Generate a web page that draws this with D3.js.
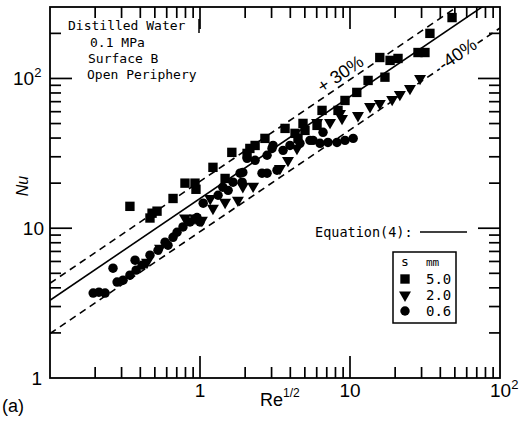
<!DOCTYPE html>
<html>
<head>
<meta charset="utf-8">
<script src="https://cdn.jsdelivr.net/npm/d3@7"></script>
<style>
  body { margin: 0; background: #fff; }
  svg { display: block; }
</style>
</head>
<body>
<div class="chart"></div>
<script>
// Data: [Re^1/2, Nu] for each gap size s
const gap50 = [
    [0.341, 14.0], [0.479, 12.6], [0.517, 13.0], [0.464, 11.7], [0.661, 15.8],
    [0.794, 20.0], [0.926, 20.0], [0.940, 18.2], [1.22, 25.5], [1.47, 21.5],
    [1.63, 32.1], [2.06, 31.6], [2.15, 34.1], [2.33, 35.7], [2.71, 39.8],
    [3.69, 46.4], [4.30, 43.0], [4.50, 39.8], [5.01, 45.0], [6.03, 48.6],
    [4.86, 50.1], [6.51, 61.2], [8.32, 61.2], [9.26, 71.3], [11.1, 80.7],
    [13.2, 97], [17.1, 102], [15.8, 138], [18.5, 132], [20.9, 136],
    [28.4, 149], [31.6, 149], [34.1, 200], [47.9, 255]
];
const gap20 = [
    [0.443, 5.93], [0.541, 7.36], [0.794, 11.7], [0.926, 11.7], [1.03, 11.3],
    [1.22, 13.6], [1.17, 15.8], [1.47, 14.9], [1.79, 15.4], [2.26, 19.1],
    [1.93, 19.0], [3.41, 25.1], [3.86, 28.4], [4.43, 34.1], [6.03, 50.9],
    [7.36, 50.9], [8.85, 54.1], [8.58, 58.4], [11.3, 56.6], [13.6, 65.0],
    [15.8, 68.1], [19.1, 72.4], [21.5, 78.2], [25.1, 85.8], [29.3, 100]
];
const gap06 = [
    [0.194, 3.69], [0.212, 3.74], [0.233, 3.69], [0.263, 5.41], [0.280, 4.37],
    [0.307, 4.50], [0.341, 4.86], [0.369, 6.12], [0.375, 5.25], [0.411, 5.67],
    [0.464, 6.61], [0.525, 7.13], [0.585, 8.07], [0.612, 7.70], [0.661, 8.7],
    [0.703, 9.4], [0.770, 10.2], [0.858, 11.0], [0.955, 11.8], [1.0, 11.0],
    [1.05, 14.7], [1.32, 16.6], [1.42, 18.8], [1.54, 17.9], [1.66, 20.3],
    [1.85, 23.3], [1.91, 20.3], [1.93, 23.6], [2.06, 29.3], [2.33, 28.4],
    [2.59, 23.3], [2.80, 23.3], [2.80, 30.7], [3.02, 34.1], [3.26, 24.4],
    [3.07, 35.7], [3.58, 33.1], [3.98, 35.7], [4.64, 36.9], [5.41, 38.6],
    [5.67, 38.6], [6.31, 36.9], [6.61, 43.7], [7.13, 37.4], [8.19, 37.4],
    [9.26, 38.6], [10.5, 39.8]
];
const gapLabels = ['5.0', '2.0', '0.6'];

// Equation (4): Nu = C * (Re^1/2)^n, with the +30% / -40% band
const eqC = 15.8;
const eqN = 0.68;
const bandFactors = [1.3, 0.6];

const infoLines = ['Distilled Water', '0.1 MPa', 'Surface B', 'Open Periphery'];

const width = 530;
const height = 423;
const plot = {left: 50, right: 500, top: 7, bottom: 378};

const x = d3.scaleLog().domain([0.1, 100]).range([plot.left, plot.right]);
const y = d3.scaleLog().domain([1, 300]).range([plot.bottom, plot.top]);

const sans = "'Liberation Sans', Arial, sans-serif";
const mono = "'DejaVu Sans Mono', monospace";

const svg = d3.select('.chart')
    .append('svg')
    .attr('width', width)
    .attr('height', height);

svg.append('clipPath')
    .attr('id', 'plot-clip')
    .append('rect')
    .attr('x', plot.left)
    .attr('y', plot.top)
    .attr('width', plot.right - plot.left)
    .attr('height', plot.bottom - plot.top);

// Ticks on all four sides, pointing inwards
const isMajor = v => Math.abs(Math.log10(v) - Math.round(Math.log10(v))) < 1e-6;
const xTicks = x.ticks().filter(v => v > 0.1 && v < 100);
const yTicks = y.ticks().filter(v => v > 1 && v < 300);
const tickLen = v => isMajor(v) ? 22 : 11;

const ticks = svg.append('g')
    .attr('stroke', '#000')
    .attr('stroke-width', 1.7);

ticks.selectAll('line.xb')
    .data(xTicks)
    .join('line')
    .attr('x1', d => x(d)).attr('x2', d => x(d))
    .attr('y1', plot.bottom).attr('y2', d => plot.bottom - tickLen(d));

ticks.selectAll('line.xt')
    .data(xTicks)
    .join('line')
    .attr('x1', d => x(d)).attr('x2', d => x(d))
    .attr('y1', plot.top).attr('y2', d => plot.top + tickLen(d));

ticks.selectAll('line.yl')
    .data(yTicks)
    .join('line')
    .attr('y1', d => y(d)).attr('y2', d => y(d))
    .attr('x1', plot.left).attr('x2', d => plot.left + tickLen(d));

ticks.selectAll('line.yr')
    .data(yTicks)
    .join('line')
    .attr('y1', d => y(d)).attr('y2', d => y(d))
    .attr('x1', plot.right).attr('x2', d => plot.right - tickLen(d));

// Frame
svg.append('rect')
    .attr('x', plot.left)
    .attr('y', plot.top)
    .attr('width', plot.right - plot.left)
    .attr('height', plot.bottom - plot.top)
    .attr('fill', 'none')
    .attr('stroke', '#000')
    .attr('stroke-width', 1.8);

// Tick labels
const tickLabel = (px, py, anchor, base, sup) => {
    const t = svg.append('text')
        .attr('x', px)
        .attr('y', py)
        .attr('text-anchor', anchor)
        .attr('font-family', sans)
        .attr('font-size', 19)
        .text(base);
    if (sup) {
        t.append('tspan')
            .attr('dy', -8)
            .attr('font-size', 13)
            .text(sup);
    }
};
tickLabel(x(1), 397, 'middle', '1');
tickLabel(x(10), 397, 'middle', '10');
tickLabel(x(100) - 10, 397, 'start', '10', '2');
tickLabel(42, y(1) + 7, 'end', '1');
tickLabel(44, y(10) + 7, 'end', '10');
tickLabel(13, y(100) + 7, 'start', '10', '2');

// Axis titles
svg.append('text')
    .attr('transform', 'translate(28,186) rotate(-90)')
    .attr('text-anchor', 'middle')
    .attr('font-family', sans)
    .attr('font-style', 'italic')
    .attr('font-size', 16)
    .text('Nu');

const reLabel = svg.append('text')
    .attr('x', 260)
    .attr('y', 406)
    .attr('font-family', sans)
    .attr('font-size', 18)
    .text('Re');
reLabel.append('tspan')
    .attr('dy', -9)
    .attr('font-size', 12)
    .text('1/2');

svg.append('text')
    .attr('x', 2)
    .attr('y', 412)
    .attr('font-family', sans)
    .attr('font-size', 18)
    .text('(a)');

// Equation line and the band lines
const lines = svg.append('g').attr('clip-path', 'url(#plot-clip)');
const eqLine = f => d3.line()
    .x(d => x(d))
    .y(d => y(f * eqC * Math.pow(d, eqN)))(x.domain());

lines.append('path')
    .attr('d', eqLine(1))
    .attr('fill', 'none')
    .attr('stroke', '#000')
    .attr('stroke-width', 1.6);

lines.selectAll('path.band')
    .data(bandFactors)
    .join('path')
    .attr('class', 'band')
    .attr('d', d => eqLine(d))
    .attr('fill', 'none')
    .attr('stroke', '#000')
    .attr('stroke-width', 1.6)
    .attr('stroke-dasharray', '7,5');

const slopeAngle = -Math.atan(eqN * (y(1) - y(10)) / (x(10) - x(1))) * 180 / Math.PI;

const bandLabel = (xv, f, off, txt, halo) => {
    const px = x(xv);
    const py = y(f * eqC * Math.pow(xv, eqN));
    svg.append('text')
        .attr('transform', `translate(${px},${py}) rotate(${slopeAngle}) translate(0,${off})`)
        .attr('text-anchor', 'middle')
        .attr('font-family', sans)
        .attr('font-size', 18)
        .attr('fill', '#000')
        .attr('stroke', halo ? '#fff' : 'none')
        .attr('stroke-width', halo ? 5 : 0)
        .attr('paint-order', 'stroke')
        .text(txt);
};
bandLabel(9.4, bandFactors[0], -4, '+ 30%', false);
bandLabel(53, bandFactors[1], 4, '-40%', true);

// Markers
const symbolSquare = d3.symbol().type(d3.symbolSquare).size(88);
const symbolTri = d3.symbol().type(d3.symbolTriangle).size(62);
const symbolDot = d3.symbol().type(d3.symbolCircle).size(70);

const series = [
    {data: gap50, path: symbolSquare(), rot: 0},
    {data: gap20, path: symbolTri(), rot: 180},
    {data: gap06, path: symbolDot(), rot: 0}
];

const marks = svg.append('g').attr('clip-path', 'url(#plot-clip)');
series.forEach(s => {
    marks.append('g')
        .selectAll('path')
        .data(s.data)
        .join('path')
        .attr('d', s.path)
        .attr('transform', d => `translate(${x(d[0])},${y(d[1])}) rotate(${s.rot})`)
        .attr('fill', '#000');
});

// Conditions text, top left
svg.append('g')
    .selectAll('text')
    .data(infoLines)
    .join('text')
    .attr('x', (d, i) => [68, 90, 88, 87][i])
    .attr('y', (d, i) => [30, 47, 63, 79][i])
    .attr('font-family', mono)
    .attr('font-size', 13)
    .text(d => d);

svg.append('line')
    .attr('x1', 199).attr('x2', 199)
    .attr('y1', 19).attr('y2', 33)
    .attr('stroke', '#000')
    .attr('stroke-width', 1.5);

// Equation(4) key
svg.append('text')
    .attr('x', 315)
    .attr('y', 237)
    .attr('font-family', mono)
    .attr('font-size', 13.5)
    .text('Equation(4):');
svg.append('line')
    .attr('x1', 420).attr('x2', 467)
    .attr('y1', 232).attr('y2', 232)
    .attr('stroke', '#000')
    .attr('stroke-width', 1.5);

// Legend box
const legend = svg.append('g');
legend.append('rect')
    .attr('x', 393)
    .attr('y', 252)
    .attr('width', 63)
    .attr('height', 71)
    .attr('fill', '#fff')
    .attr('stroke', '#000')
    .attr('stroke-width', 1.5);
legend.append('text')
    .attr('x', 405).attr('y', 266)
    .attr('text-anchor', 'middle')
    .attr('font-family', mono)
    .attr('font-size', 13)
    .text('s');
legend.append('text')
    .attr('x', 426).attr('y', 266)
    .attr('font-family', mono)
    .attr('font-size', 11)
    .text('mm');

const rows = legend.selectAll('g.row')
    .data(series)
    .join('g')
    .attr('class', 'row')
    .attr('transform', (d, i) => `translate(405,${279 + i * 16})`);
rows.append('path')
    .attr('d', d => d.path)
    .attr('transform', d => `rotate(${d.rot})`)
    .attr('fill', '#000');
rows.append('text')
    .attr('x', 21)
    .attr('y', 5)
    .attr('font-family', mono)
    .attr('font-size', 14)
    .text((d, i) => gapLabels[i]);
</script>
</body>
</html>
